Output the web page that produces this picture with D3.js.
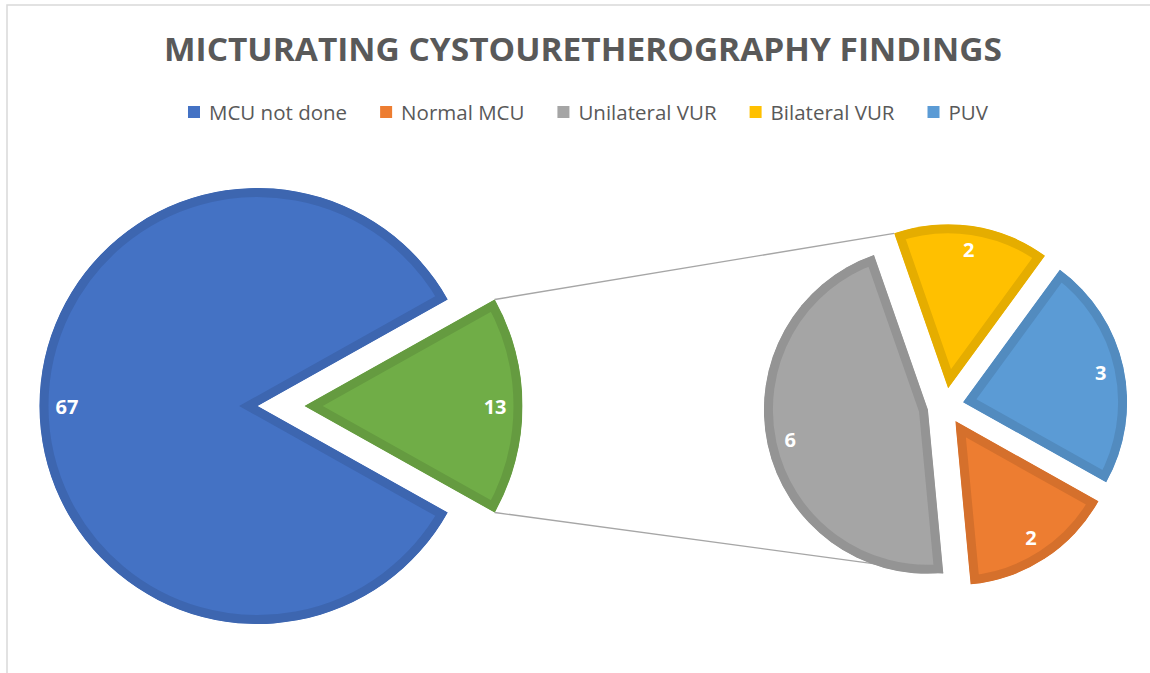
<!DOCTYPE html>
<html><head><meta charset="utf-8">
<script src="https://cdn.jsdelivr.net/npm/d3@7"></script>
<style>body{margin:0;background:#fff;overflow:hidden}</style>
</head><body><svg id="c" width="1150" height="673"></svg>
<script>
const title = "MICTURATING CYSTOURETHEROGRAPHY FINDINGS";
const categories = ["MCU not done", "Normal MCU", "Unilateral VUR", "Bilateral VUR", "PUV"];
const values = [67, 2, 6, 2, 3];
const seriesColors = ["#4472C4", "#ED7D31", "#A5A5A5", "#FFC000", "#5B9BD5"];
const otherName = "Other";
const otherColor = "#70AD47";

const svg = d3.select("#c");
const font = "'Open Sans', 'DejaVu Sans', sans-serif";

// chart area border
svg.append("rect").attr("x", 7).attr("y", 5).attr("width", 1170).attr("height", 700)
  .attr("fill", "#fff").attr("stroke", "#d9d9d9").attr("stroke-width", 1.5);

// title
svg.append("text").attr("x", 583).attr("y", 61).attr("text-anchor", "middle")
  .attr("font-family", font).attr("font-weight", 700).attr("font-size", 32)
  .attr("fill", "#595959").attr("textLength", 838).attr("lengthAdjust", "spacingAndGlyphs")
  .text(title);

// legend
const legend = svg.append("g");
const lfs = 20.5, mk = 12, gapMT = 9, gapItem = 33;
let lx = 0;
categories.forEach((c, i) => {
  const g = legend.append("g").attr("transform", `translate(${lx},0)`);
  g.append("rect").attr("x", 0).attr("y", 106).attr("width", mk).attr("height", mk).attr("fill", seriesColors[i]);
  const t = g.append("text").attr("x", mk + gapMT).attr("y", 119.5)
    .attr("font-family", font).attr("font-size", lfs).attr("fill", "#595959").text(c);
  lx += mk + gapMT + t.node().getComputedTextLength() + gapItem;
});
const ltot = lx - gapItem;
legend.attr("transform", `translate(${588 - ltot / 2},0)`);

// data split
const total = d3.sum(values);
const otherVal = d3.sum(values.slice(1));
const mainData = [{name: categories[0], value: values[0], color: seriesColors[0], explode: 0},
                  {name: otherName, value: otherVal, color: otherColor, explode: 47}];
const subData = categories.slice(1).map((c, i) => ({name: c, value: values[i + 1], color: seriesColors[i + 1], explode: 18}));

const a0 = Math.PI / 2 + Math.PI * otherVal / total;
const pieGen = d3.pie().value(d => d.value).sort(null).startAngle(a0).endAngle(a0 + 2 * Math.PI);

const main = {cx: 257.5, cy: 406, r: 218};
const sub = {cx: 945.5, cy: 406, r: 164};

const mainArcs = pieGen(mainData);
const subArcs = pieGen(subData);

function vertex(p, c) {
  const m = (p.startAngle + p.endAngle) / 2;
  const e = p.data.explode;
  return [c.cx + e * Math.sin(m), c.cy - e * Math.cos(m)];
}
function corner(p, c, ang) {
  const v = vertex(p, c);
  return [v[0] + c.r * Math.sin(ang), v[1] - c.r * Math.cos(ang)];
}

// connector lines (behind)
const other = mainArcs[1];
const up0 = corner(other, main, other.startAngle);
const lo0 = corner(other, main, other.endAngle);
const up1 = corner(subArcs[2], sub, subArcs[2].startAngle);
const lo1 = corner(subArcs[1], sub, subArcs[1].startAngle);
svg.append("line").attr("x1", up0[0]).attr("y1", up0[1]).attr("x2", up1[0]).attr("y2", up1[1])
  .attr("stroke", "#a6a6a6").attr("stroke-width", 1.4);
svg.append("line").attr("x1", lo0[0]).attr("y1", lo0[1]).attr("x2", lo1[0]).attr("y2", lo1[1])
  .attr("stroke", "#a6a6a6").attr("stroke-width", 1.4);

const defs = svg.append("defs");
let cid = 0;
function drawPie(arcs, c) {
  const arcGen = d3.arc().innerRadius(0).outerRadius(c.r);
  arcs.forEach(p => {
    const v = vertex(p, c);
    const id = "clip" + (cid++);
    const d = arcGen(p);
    defs.append("clipPath").attr("id", id).append("path").attr("d", d);
    const g = svg.append("g").attr("transform", `translate(${v[0]},${v[1]})`);
    g.append("path").attr("d", d).attr("fill", p.data.color)
      .attr("stroke", d3.color(p.data.color).darker(0.3)).attr("stroke-width", 18)
      .attr("stroke-linejoin", "miter").attr("clip-path", `url(#${id})`);
    const m = (p.startAngle + p.endAngle) / 2;
    const t = g.append("text").attr("font-family", font).attr("font-weight", 700)
      .attr("font-size", 20).attr("fill", "#fff").attr("text-anchor", "middle").text(p.data.value);
    const w = t.node().getComputedTextLength(), h = 15;
    const rr = c.r - 16 - (Math.abs(Math.sin(m)) * w / 2 + Math.abs(Math.cos(m)) * h / 2);
    t.attr("x", rr * Math.sin(m)).attr("y", -rr * Math.cos(m) + 7.5);
  });
}
drawPie(mainArcs, main);
drawPie(subArcs, sub);
</script></body></html>
